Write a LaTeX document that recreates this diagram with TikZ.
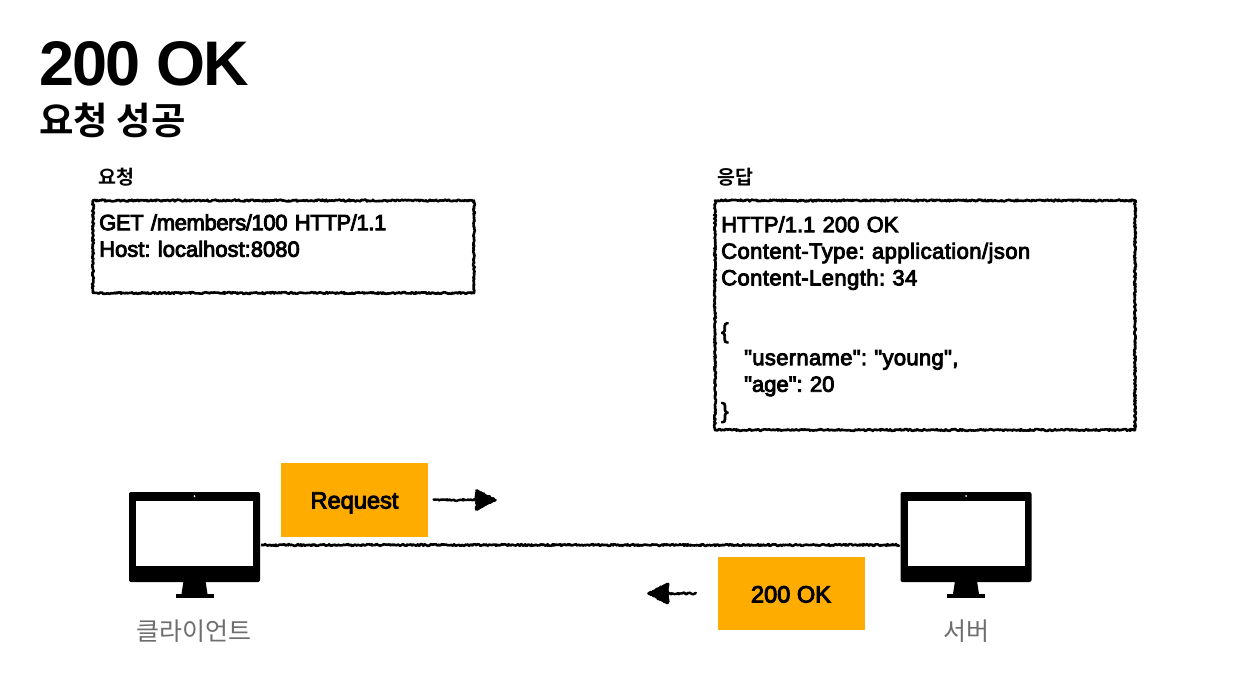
\documentclass[tikz,border=0pt]{standalone}
\usepackage{fontspec}
\setmainfont{Liberation Sans}
\newfontfamily\krb{Noto Sans CJK KR}[BoldFont={* Bold}]
\newfontfamily\krr{Noto Sans CJK KR}
\newfontfamily\medf{Liberation Sans}[FakeBold=4]
\usetikzlibrary{decorations.pathmorphing,arrows.meta,calc}
\definecolor{amberbox}{HTML}{FEAD00}
\definecolor{greylabel}{HTML}{6E6E6E}
\pgfmathsetseed{42}
\frenchspacing
\newcommand{\spaced}[2]{{\addfontfeature{LetterSpace=#1}#2}}
\tikzset{
  x=1pt,y=-1pt,
  rough/.style={decorate,decoration={random steps,segment length=1.1pt,amplitude=0.9pt},line width=2.6pt,line join=round,black},
  msgtext/.style={font=\medf\fontsize{22}{26.6}\selectfont,align=left,anchor=north west,inner sep=0pt,text width=400pt},
  sect/.style={font=\krb\bfseries\fontsize{19.5}{22}\selectfont,inner sep=0pt},
  tagbox/.style={fill=amberbox,inner sep=0pt,outer sep=0pt,minimum width=147pt,minimum height=73.5pt,font=\medf\fontsize{23.6}{26}\selectfont},
  monbody/.style={fill=black,rounded corners=2pt,inner sep=0pt,outer sep=0pt,minimum width=131pt,minimum height=90pt},
  monlabel/.style={font=\krr\fontsize{25}{29}\selectfont,text=greylabel,inner sep=0pt},
  tiparrow/.style={-{Triangle[length=19pt,width=21pt]}}
}
\newcommand{\monitor}[2]{%
  \node[monbody] (#2) at (#1,537) {};
  \fill[white] ($(#2.center)+(-58.5,-36.5)$) rectangle ($(#2.center)+(58.5,29)$);
  \fill[white] ($(#2.center)+(0,-41)$) circle (1pt);
  \fill[black] ($(#2.center)+(-11,44)$) -- ($(#2.center)+(11,44)$) -- ($(#2.center)+(13,57)$) -- ($(#2.center)+(-13,57)$) -- cycle;
  \fill[black] ($(#2.center)+(-19,57)$) rectangle ($(#2.center)+(19,61)$);
}
\begin{document}
\begin{tikzpicture}
\useasboundingbox (0,0) rectangle (1246,682);
\fill[white] (0,0) rectangle (1246,682);

\node[inner sep=0pt,anchor=base west,font=\bfseries\fontsize{63}{65}\selectfont,text=black] (title) at (39,86) {\addfontfeature{LetterSpace=-3}200 OK};
\node[inner sep=0pt,anchor=base west,font=\krb\bfseries\fontsize{37.5}{40}\selectfont] (subtitle) at (39,134) {요청 성공};

\node[sect,anchor=base west] (reqhead) at (98,184) {요청};
\node[sect,anchor=base west] (resphead) at (717,184) {응답};

\draw[rough] (93,200.5) rectangle (474,293);
\draw[rough] (715,200.5) rectangle (1135,430);

\node[msgtext] (reqtext) at (99,214) {\spaced{-1.7}{GET /members/100 HTTP/1.1}\\Host: localhost:8080};
\node[msgtext] (resptext) at (721,216) {HTTP/1.1 200 OK\\\spaced{2}{Content-Type: application/json}\\\spaced{2}{Content-Length: 34}\\[26.6pt]\{\\\hspace*{23pt}\spaced{1.5}{"username": "young",}\\\hspace*{23pt}"age": 20\\\}};

\monitor{194.5}{client}
\monitor{966}{server}

\node[tagbox] (request) at (354.5,500) {\raisebox{-8.5pt}[0pt][0pt]{Request}};
\node[tagbox] (okbox) at (791,593.5) {\raisebox{-9pt}[0pt][0pt]{200 OK}};

\draw[rough] ($(client.east)+(1,8)$) -- ($(server.west)+(-1,8)$);

\coordinate (reqend) at (496,500);
\coordinate (okend) at (648,593.5);
\draw[rough,line width=2.4pt] ($(request.east)+(5,0)$) -- ($(reqend)+(-15,0)$);
\draw[tiparrow,line width=2.4pt] ($(reqend)+(-20,0)$) -- (reqend);
\draw[rough,line width=1.6pt,fill=black] (reqend) -- ($(reqend)+(-20,-10)$) -- ($(reqend)+(-20,10)$) -- cycle;
\draw[rough,line width=2.4pt] ($(okbox.west)+(-21,0)$) -- ($(okend)+(15,0)$);
\draw[tiparrow,line width=2.4pt] ($(okend)+(20,0)$) -- (okend);
\draw[rough,line width=1.6pt,fill=black] (okend) -- ($(okend)+(20,-10)$) -- ($(okend)+(20,10)$) -- cycle;

\node[monlabel] (clientlabel) at (194,631) {클라이언트};
\node[monlabel] (serverlabel) at (966,631) {서버};
\end{tikzpicture}
\end{document}
